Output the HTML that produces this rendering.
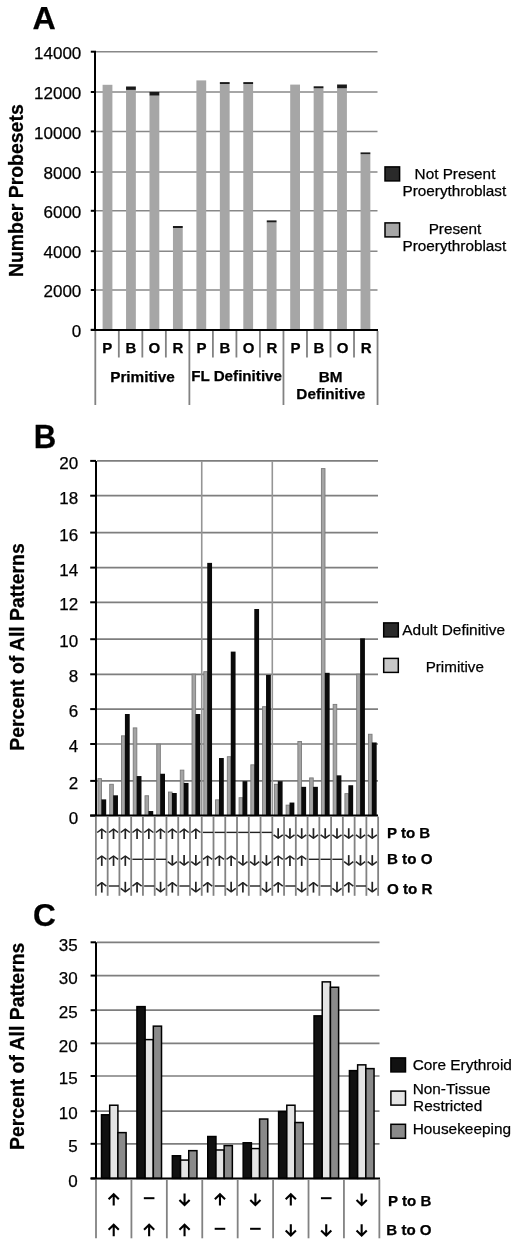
<!DOCTYPE html>
<html><head><meta charset="utf-8"><style>
html,body{margin:0;padding:0;background:#fff;}
body{filter:grayscale(1);}
svg{display:block;}
text{font-family:"Liberation Sans", sans-serif;stroke:#000;stroke-width:0.25px;}
</style></head><body>
<svg width="520" height="1246" viewBox="0 0 520 1246">
<rect x="0" y="0" width="520" height="1246" fill="#fff"/>
<text x="32.40" y="29.40" font-size="32.2" font-weight="bold" text-anchor="start" fill="#000">A</text>
<text x="0" y="0" font-size="19.45" font-weight="bold" text-anchor="middle" fill="#000" transform="translate(22.90 190.70) rotate(-90)">Number Probesets</text>
<text x="81.30" y="337.00" font-size="17" text-anchor="end" fill="#000">0</text>
<line x1="90.80" y1="329.80" x2="96.00" y2="329.80" stroke="#000" stroke-width="2"/>
<text x="81.30" y="297.20" font-size="17" text-anchor="end" fill="#000">2000</text>
<line x1="96.00" y1="290.00" x2="377.50" y2="290.00" stroke="#888888" stroke-width="1.5"/>
<line x1="90.80" y1="290.00" x2="96.00" y2="290.00" stroke="#000" stroke-width="2"/>
<text x="81.30" y="258.40" font-size="17" text-anchor="end" fill="#000">4000</text>
<line x1="96.00" y1="251.20" x2="377.50" y2="251.20" stroke="#888888" stroke-width="1.5"/>
<line x1="90.80" y1="251.20" x2="96.00" y2="251.20" stroke="#000" stroke-width="2"/>
<text x="81.30" y="218.00" font-size="17" text-anchor="end" fill="#000">6000</text>
<line x1="96.00" y1="210.80" x2="377.50" y2="210.80" stroke="#888888" stroke-width="1.5"/>
<line x1="90.80" y1="210.80" x2="96.00" y2="210.80" stroke="#000" stroke-width="2"/>
<text x="81.30" y="179.20" font-size="17" text-anchor="end" fill="#000">8000</text>
<line x1="96.00" y1="172.00" x2="377.50" y2="172.00" stroke="#888888" stroke-width="1.5"/>
<line x1="90.80" y1="172.00" x2="96.00" y2="172.00" stroke="#000" stroke-width="2"/>
<text x="81.30" y="138.60" font-size="17" text-anchor="end" fill="#000">10000</text>
<line x1="96.00" y1="131.40" x2="377.50" y2="131.40" stroke="#888888" stroke-width="1.5"/>
<line x1="90.80" y1="131.40" x2="96.00" y2="131.40" stroke="#000" stroke-width="2"/>
<text x="81.30" y="99.20" font-size="17" text-anchor="end" fill="#000">12000</text>
<line x1="96.00" y1="92.00" x2="377.50" y2="92.00" stroke="#888888" stroke-width="1.5"/>
<line x1="90.80" y1="92.00" x2="96.00" y2="92.00" stroke="#000" stroke-width="2"/>
<text x="81.30" y="58.90" font-size="17" text-anchor="end" fill="#000">14000</text>
<line x1="96.00" y1="51.70" x2="377.50" y2="51.70" stroke="#888888" stroke-width="1.5"/>
<line x1="90.80" y1="51.70" x2="96.00" y2="51.70" stroke="#000" stroke-width="2"/>
<rect x="102.60" y="84.80" width="9.80" height="245.00" fill="#a6a6a6"/>
<rect x="126.05" y="89.90" width="9.80" height="239.90" fill="#a6a6a6"/>
<rect x="126.05" y="86.50" width="9.80" height="3.40" fill="#1a1a1a"/>
<rect x="149.50" y="95.60" width="9.80" height="234.20" fill="#a6a6a6"/>
<rect x="149.50" y="91.90" width="9.80" height="3.70" fill="#1a1a1a"/>
<rect x="172.95" y="228.00" width="9.80" height="101.80" fill="#a6a6a6"/>
<rect x="172.95" y="226.00" width="9.80" height="2.00" fill="#1a1a1a"/>
<rect x="196.40" y="80.40" width="9.80" height="249.40" fill="#a6a6a6"/>
<rect x="219.85" y="84.00" width="9.80" height="245.80" fill="#a6a6a6"/>
<rect x="219.85" y="82.10" width="9.80" height="1.90" fill="#1a1a1a"/>
<rect x="243.30" y="84.00" width="9.80" height="245.80" fill="#a6a6a6"/>
<rect x="243.30" y="82.10" width="9.80" height="1.90" fill="#1a1a1a"/>
<rect x="266.75" y="222.40" width="9.80" height="107.40" fill="#a6a6a6"/>
<rect x="266.75" y="220.40" width="9.80" height="2.00" fill="#1a1a1a"/>
<rect x="290.20" y="84.60" width="9.80" height="245.20" fill="#a6a6a6"/>
<rect x="313.65" y="88.30" width="9.80" height="241.50" fill="#a6a6a6"/>
<rect x="313.65" y="86.30" width="9.80" height="2.00" fill="#1a1a1a"/>
<rect x="337.10" y="88.30" width="9.80" height="241.50" fill="#a6a6a6"/>
<rect x="337.10" y="84.50" width="9.80" height="3.80" fill="#1a1a1a"/>
<rect x="360.55" y="154.20" width="9.80" height="175.60" fill="#a6a6a6"/>
<rect x="360.55" y="152.40" width="9.80" height="1.80" fill="#1a1a1a"/>
<line x1="95.00" y1="51.00" x2="95.00" y2="331.00" stroke="#000" stroke-width="2"/>
<line x1="90.80" y1="330.00" x2="378.00" y2="330.00" stroke="#000" stroke-width="2"/>
<line x1="95.30" y1="331.00" x2="95.30" y2="405.00" stroke="#828282" stroke-width="1.8"/>
<line x1="118.82" y1="331.00" x2="118.82" y2="357.50" stroke="#828282" stroke-width="1.8"/>
<line x1="142.34" y1="331.00" x2="142.34" y2="357.50" stroke="#828282" stroke-width="1.8"/>
<line x1="165.86" y1="331.00" x2="165.86" y2="357.50" stroke="#828282" stroke-width="1.8"/>
<line x1="189.38" y1="331.00" x2="189.38" y2="405.00" stroke="#828282" stroke-width="1.8"/>
<line x1="212.90" y1="331.00" x2="212.90" y2="357.50" stroke="#828282" stroke-width="1.8"/>
<line x1="236.42" y1="331.00" x2="236.42" y2="357.50" stroke="#828282" stroke-width="1.8"/>
<line x1="259.94" y1="331.00" x2="259.94" y2="357.50" stroke="#828282" stroke-width="1.8"/>
<line x1="283.46" y1="331.00" x2="283.46" y2="405.00" stroke="#828282" stroke-width="1.8"/>
<line x1="306.98" y1="331.00" x2="306.98" y2="357.50" stroke="#828282" stroke-width="1.8"/>
<line x1="330.50" y1="331.00" x2="330.50" y2="357.50" stroke="#828282" stroke-width="1.8"/>
<line x1="354.02" y1="331.00" x2="354.02" y2="357.50" stroke="#828282" stroke-width="1.8"/>
<line x1="377.54" y1="331.00" x2="377.54" y2="405.00" stroke="#828282" stroke-width="1.8"/>
<text x="107.36" y="353.10" font-size="15" font-weight="bold" text-anchor="middle" fill="#000">P</text>
<text x="130.88" y="353.10" font-size="15" font-weight="bold" text-anchor="middle" fill="#000">B</text>
<text x="154.40" y="353.10" font-size="15" font-weight="bold" text-anchor="middle" fill="#000">O</text>
<text x="177.92" y="353.10" font-size="15" font-weight="bold" text-anchor="middle" fill="#000">R</text>
<text x="201.44" y="353.10" font-size="15" font-weight="bold" text-anchor="middle" fill="#000">P</text>
<text x="224.96" y="353.10" font-size="15" font-weight="bold" text-anchor="middle" fill="#000">B</text>
<text x="248.48" y="353.10" font-size="15" font-weight="bold" text-anchor="middle" fill="#000">O</text>
<text x="272.00" y="353.10" font-size="15" font-weight="bold" text-anchor="middle" fill="#000">R</text>
<text x="295.52" y="353.10" font-size="15" font-weight="bold" text-anchor="middle" fill="#000">P</text>
<text x="319.04" y="353.10" font-size="15" font-weight="bold" text-anchor="middle" fill="#000">B</text>
<text x="342.56" y="353.10" font-size="15" font-weight="bold" text-anchor="middle" fill="#000">O</text>
<text x="366.08" y="353.10" font-size="15" font-weight="bold" text-anchor="middle" fill="#000">R</text>
<text x="142.50" y="381.60" font-size="15.3" font-weight="bold" text-anchor="middle" fill="#000">Primitive</text>
<text x="236.60" y="381.40" font-size="15.2" font-weight="bold" text-anchor="middle" fill="#000">FL Definitive</text>
<text x="330.60" y="382.00" font-size="15.3" font-weight="bold" text-anchor="middle" fill="#000">BM</text>
<text x="330.80" y="398.80" font-size="15.3" font-weight="bold" text-anchor="middle" fill="#000">Definitive</text>
<rect x="385.00" y="166.90" width="14.60" height="14.00" fill="#2a2a2a" stroke="#000" stroke-width="1.5"/>
<text x="455.00" y="179.30" font-size="15.3" text-anchor="middle" fill="#000">Not Present</text>
<text x="454.40" y="196.20" font-size="15.3" text-anchor="middle" fill="#000">Proerythroblast</text>
<rect x="385.00" y="222.90" width="14.60" height="14.00" fill="#a6a6a6" stroke="#000" stroke-width="1.5"/>
<text x="455.00" y="234.40" font-size="15.3" text-anchor="middle" fill="#000">Present</text>
<text x="454.40" y="251.30" font-size="15.3" text-anchor="middle" fill="#000">Proerythroblast</text>
<text x="0" y="0" font-size="32.4" font-weight="bold" text-anchor="start" fill="#000" transform="translate(33.80 447.60) scale(0.96 1)">B</text>
<text x="0" y="0" font-size="19.42" font-weight="bold" text-anchor="middle" fill="#000" transform="translate(24.00 647.00) rotate(-90)">Percent of All Patterns</text>
<text x="78.20" y="823.70" font-size="17" text-anchor="end" fill="#000">0</text>
<line x1="90.20" y1="815.60" x2="96.00" y2="815.60" stroke="#000" stroke-width="2"/>
<text x="78.20" y="789.00" font-size="17" text-anchor="end" fill="#000">2</text>
<line x1="97.00" y1="780.90" x2="378.00" y2="780.90" stroke="#7e7e7e" stroke-width="1.7"/>
<line x1="90.20" y1="780.90" x2="96.00" y2="780.90" stroke="#000" stroke-width="2"/>
<text x="78.20" y="752.10" font-size="17" text-anchor="end" fill="#000">4</text>
<line x1="97.00" y1="744.00" x2="378.00" y2="744.00" stroke="#7e7e7e" stroke-width="1.7"/>
<line x1="90.20" y1="744.00" x2="96.00" y2="744.00" stroke="#000" stroke-width="2"/>
<text x="78.20" y="717.20" font-size="17" text-anchor="end" fill="#000">6</text>
<line x1="97.00" y1="709.10" x2="378.00" y2="709.10" stroke="#7e7e7e" stroke-width="1.7"/>
<line x1="90.20" y1="709.10" x2="96.00" y2="709.10" stroke="#000" stroke-width="2"/>
<text x="78.20" y="682.40" font-size="17" text-anchor="end" fill="#000">8</text>
<line x1="97.00" y1="674.30" x2="378.00" y2="674.30" stroke="#7e7e7e" stroke-width="1.7"/>
<line x1="90.20" y1="674.30" x2="96.00" y2="674.30" stroke="#000" stroke-width="2"/>
<text x="78.20" y="647.30" font-size="17" text-anchor="end" fill="#000">10</text>
<line x1="97.00" y1="639.20" x2="378.00" y2="639.20" stroke="#7e7e7e" stroke-width="1.7"/>
<line x1="90.20" y1="639.20" x2="96.00" y2="639.20" stroke="#000" stroke-width="2"/>
<text x="78.20" y="610.40" font-size="17" text-anchor="end" fill="#000">12</text>
<line x1="97.00" y1="602.30" x2="378.00" y2="602.30" stroke="#7e7e7e" stroke-width="1.7"/>
<line x1="90.20" y1="602.30" x2="96.00" y2="602.30" stroke="#000" stroke-width="2"/>
<text x="78.20" y="575.70" font-size="17" text-anchor="end" fill="#000">14</text>
<line x1="97.00" y1="567.60" x2="378.00" y2="567.60" stroke="#7e7e7e" stroke-width="1.7"/>
<line x1="90.20" y1="567.60" x2="96.00" y2="567.60" stroke="#000" stroke-width="2"/>
<text x="78.20" y="540.70" font-size="17" text-anchor="end" fill="#000">16</text>
<line x1="97.00" y1="532.60" x2="378.00" y2="532.60" stroke="#7e7e7e" stroke-width="1.7"/>
<line x1="90.20" y1="532.60" x2="96.00" y2="532.60" stroke="#000" stroke-width="2"/>
<text x="78.20" y="503.80" font-size="17" text-anchor="end" fill="#000">18</text>
<line x1="97.00" y1="495.70" x2="378.00" y2="495.70" stroke="#7e7e7e" stroke-width="1.7"/>
<line x1="90.20" y1="495.70" x2="96.00" y2="495.70" stroke="#000" stroke-width="2"/>
<text x="78.20" y="469.00" font-size="17" text-anchor="end" fill="#000">20</text>
<line x1="97.00" y1="460.90" x2="378.00" y2="460.90" stroke="#7e7e7e" stroke-width="1.7"/>
<line x1="90.20" y1="460.90" x2="96.00" y2="460.90" stroke="#000" stroke-width="2"/>
<line x1="201.74" y1="460.90" x2="201.74" y2="815.60" stroke="#959595" stroke-width="1.6"/>
<line x1="272.30" y1="460.90" x2="272.30" y2="815.60" stroke="#959595" stroke-width="1.6"/>
<rect x="97.95" y="778.62" width="3.60" height="36.98" fill="#a4a4a4" stroke="#7a7a7a" stroke-width="0.9"/>
<rect x="101.40" y="799.38" width="4.80" height="16.22" fill="#0a0a0a"/>
<rect x="109.71" y="784.27" width="3.60" height="31.33" fill="#a4a4a4" stroke="#7a7a7a" stroke-width="0.9"/>
<rect x="113.16" y="795.31" width="4.80" height="20.29" fill="#0a0a0a"/>
<rect x="121.47" y="735.84" width="3.60" height="79.76" fill="#a4a4a4" stroke="#7a7a7a" stroke-width="0.9"/>
<rect x="124.92" y="714.01" width="4.80" height="101.59" fill="#0a0a0a"/>
<rect x="133.23" y="727.89" width="3.60" height="87.71" fill="#a4a4a4" stroke="#7a7a7a" stroke-width="0.9"/>
<rect x="136.68" y="776.05" width="4.80" height="39.55" fill="#0a0a0a"/>
<rect x="144.99" y="795.76" width="3.60" height="19.84" fill="#a4a4a4" stroke="#7a7a7a" stroke-width="0.9"/>
<rect x="148.44" y="811.04" width="4.80" height="4.56" fill="#0a0a0a"/>
<rect x="156.75" y="744.15" width="3.60" height="71.45" fill="#a4a4a4" stroke="#7a7a7a" stroke-width="0.9"/>
<rect x="160.20" y="773.75" width="4.80" height="41.85" fill="#0a0a0a"/>
<rect x="168.51" y="792.05" width="3.60" height="23.55" fill="#a4a4a4" stroke="#7a7a7a" stroke-width="0.9"/>
<rect x="171.96" y="793.01" width="4.80" height="22.59" fill="#0a0a0a"/>
<rect x="180.27" y="770.13" width="3.60" height="45.47" fill="#a4a4a4" stroke="#7a7a7a" stroke-width="0.9"/>
<rect x="183.72" y="782.94" width="4.80" height="32.66" fill="#0a0a0a"/>
<rect x="192.03" y="674.16" width="3.60" height="141.44" fill="#a4a4a4" stroke="#7a7a7a" stroke-width="0.9"/>
<rect x="195.48" y="714.01" width="4.80" height="101.59" fill="#0a0a0a"/>
<rect x="203.79" y="671.68" width="3.60" height="143.92" fill="#a4a4a4" stroke="#7a7a7a" stroke-width="0.9"/>
<rect x="207.24" y="562.88" width="4.80" height="252.72" fill="#0a0a0a"/>
<rect x="215.55" y="799.83" width="3.60" height="15.77" fill="#a4a4a4" stroke="#7a7a7a" stroke-width="0.9"/>
<rect x="219.00" y="758.02" width="4.80" height="57.58" fill="#0a0a0a"/>
<rect x="227.31" y="756.70" width="3.60" height="58.90" fill="#a4a4a4" stroke="#7a7a7a" stroke-width="0.9"/>
<rect x="230.76" y="651.61" width="4.80" height="163.99" fill="#0a0a0a"/>
<rect x="239.07" y="797.71" width="3.60" height="17.89" fill="#a4a4a4" stroke="#7a7a7a" stroke-width="0.9"/>
<rect x="242.52" y="781.17" width="4.80" height="34.43" fill="#0a0a0a"/>
<rect x="250.83" y="764.83" width="3.60" height="50.77" fill="#a4a4a4" stroke="#7a7a7a" stroke-width="0.9"/>
<rect x="254.28" y="609.02" width="4.80" height="206.58" fill="#0a0a0a"/>
<rect x="262.59" y="706.68" width="3.60" height="108.92" fill="#a4a4a4" stroke="#7a7a7a" stroke-width="0.9"/>
<rect x="266.04" y="674.94" width="4.80" height="140.66" fill="#0a0a0a"/>
<rect x="274.35" y="784.27" width="3.60" height="31.33" fill="#a4a4a4" stroke="#7a7a7a" stroke-width="0.9"/>
<rect x="277.80" y="781.17" width="4.80" height="34.43" fill="#0a0a0a"/>
<rect x="286.11" y="805.13" width="3.60" height="10.47" fill="#a4a4a4" stroke="#7a7a7a" stroke-width="0.9"/>
<rect x="289.56" y="802.56" width="4.80" height="13.04" fill="#0a0a0a"/>
<rect x="297.87" y="741.50" width="3.60" height="74.10" fill="#a4a4a4" stroke="#7a7a7a" stroke-width="0.9"/>
<rect x="301.32" y="786.83" width="4.80" height="28.77" fill="#0a0a0a"/>
<rect x="309.63" y="777.91" width="3.60" height="37.69" fill="#a4a4a4" stroke="#7a7a7a" stroke-width="0.9"/>
<rect x="313.08" y="786.83" width="4.80" height="28.77" fill="#0a0a0a"/>
<rect x="321.39" y="468.60" width="3.60" height="347.00" fill="#a4a4a4" stroke="#7a7a7a" stroke-width="0.9"/>
<rect x="324.84" y="672.82" width="4.80" height="142.78" fill="#0a0a0a"/>
<rect x="333.15" y="704.38" width="3.60" height="111.22" fill="#a4a4a4" stroke="#7a7a7a" stroke-width="0.9"/>
<rect x="336.60" y="775.34" width="4.80" height="40.26" fill="#0a0a0a"/>
<rect x="344.91" y="793.64" width="3.60" height="21.96" fill="#a4a4a4" stroke="#7a7a7a" stroke-width="0.9"/>
<rect x="348.36" y="785.24" width="4.80" height="30.36" fill="#0a0a0a"/>
<rect x="356.67" y="674.16" width="3.60" height="141.44" fill="#a4a4a4" stroke="#7a7a7a" stroke-width="0.9"/>
<rect x="360.12" y="638.36" width="4.80" height="177.24" fill="#0a0a0a"/>
<rect x="368.43" y="734.25" width="3.60" height="81.35" fill="#a4a4a4" stroke="#7a7a7a" stroke-width="0.9"/>
<rect x="371.88" y="742.46" width="4.80" height="73.14" fill="#0a0a0a"/>
<line x1="96.00" y1="460.90" x2="96.00" y2="816.60" stroke="#000" stroke-width="2"/>
<line x1="90.20" y1="815.60" x2="378.00" y2="815.60" stroke="#000" stroke-width="2"/>
<line x1="95.90" y1="816.60" x2="95.90" y2="895.80" stroke="#828282" stroke-width="1.8"/>
<line x1="107.66" y1="816.60" x2="107.66" y2="895.80" stroke="#828282" stroke-width="1.8"/>
<line x1="119.42" y1="816.60" x2="119.42" y2="895.80" stroke="#828282" stroke-width="1.8"/>
<line x1="131.18" y1="816.60" x2="131.18" y2="895.80" stroke="#828282" stroke-width="1.8"/>
<line x1="142.94" y1="816.60" x2="142.94" y2="895.80" stroke="#828282" stroke-width="1.8"/>
<line x1="154.70" y1="816.60" x2="154.70" y2="895.80" stroke="#828282" stroke-width="1.8"/>
<line x1="166.46" y1="816.60" x2="166.46" y2="895.80" stroke="#828282" stroke-width="1.8"/>
<line x1="178.22" y1="816.60" x2="178.22" y2="895.80" stroke="#828282" stroke-width="1.8"/>
<line x1="189.98" y1="816.60" x2="189.98" y2="895.80" stroke="#828282" stroke-width="1.8"/>
<line x1="201.74" y1="816.60" x2="201.74" y2="895.80" stroke="#828282" stroke-width="1.8"/>
<line x1="213.50" y1="816.60" x2="213.50" y2="895.80" stroke="#828282" stroke-width="1.8"/>
<line x1="225.26" y1="816.60" x2="225.26" y2="895.80" stroke="#828282" stroke-width="1.8"/>
<line x1="237.02" y1="816.60" x2="237.02" y2="895.80" stroke="#828282" stroke-width="1.8"/>
<line x1="248.78" y1="816.60" x2="248.78" y2="895.80" stroke="#828282" stroke-width="1.8"/>
<line x1="260.54" y1="816.60" x2="260.54" y2="895.80" stroke="#828282" stroke-width="1.8"/>
<line x1="272.30" y1="816.60" x2="272.30" y2="895.80" stroke="#828282" stroke-width="1.8"/>
<line x1="284.06" y1="816.60" x2="284.06" y2="895.80" stroke="#828282" stroke-width="1.8"/>
<line x1="295.82" y1="816.60" x2="295.82" y2="895.80" stroke="#828282" stroke-width="1.8"/>
<line x1="307.58" y1="816.60" x2="307.58" y2="895.80" stroke="#828282" stroke-width="1.8"/>
<line x1="319.34" y1="816.60" x2="319.34" y2="895.80" stroke="#828282" stroke-width="1.8"/>
<line x1="331.10" y1="816.60" x2="331.10" y2="895.80" stroke="#828282" stroke-width="1.8"/>
<line x1="342.86" y1="816.60" x2="342.86" y2="895.80" stroke="#828282" stroke-width="1.8"/>
<line x1="354.62" y1="816.60" x2="354.62" y2="895.80" stroke="#828282" stroke-width="1.8"/>
<line x1="366.38" y1="816.60" x2="366.38" y2="895.80" stroke="#828282" stroke-width="1.8"/>
<line x1="378.14" y1="816.60" x2="378.14" y2="895.80" stroke="#828282" stroke-width="1.8"/>
<path d="M97.18,832.50 L101.78,829.10 L106.38,832.50" fill="none" stroke="#222" stroke-width="1.5" stroke-linejoin="round"/>
<line x1="101.78" y1="829.10" x2="101.78" y2="839.00" stroke="#222" stroke-width="1.7"/>
<path d="M108.94,832.50 L113.54,829.10 L118.14,832.50" fill="none" stroke="#222" stroke-width="1.5" stroke-linejoin="round"/>
<line x1="113.54" y1="829.10" x2="113.54" y2="839.00" stroke="#222" stroke-width="1.7"/>
<path d="M120.70,832.50 L125.30,829.10 L129.90,832.50" fill="none" stroke="#222" stroke-width="1.5" stroke-linejoin="round"/>
<line x1="125.30" y1="829.10" x2="125.30" y2="839.00" stroke="#222" stroke-width="1.7"/>
<path d="M132.46,832.50 L137.06,829.10 L141.66,832.50" fill="none" stroke="#222" stroke-width="1.5" stroke-linejoin="round"/>
<line x1="137.06" y1="829.10" x2="137.06" y2="839.00" stroke="#222" stroke-width="1.7"/>
<path d="M144.22,832.50 L148.82,829.10 L153.42,832.50" fill="none" stroke="#222" stroke-width="1.5" stroke-linejoin="round"/>
<line x1="148.82" y1="829.10" x2="148.82" y2="839.00" stroke="#222" stroke-width="1.7"/>
<path d="M155.98,832.50 L160.58,829.10 L165.18,832.50" fill="none" stroke="#222" stroke-width="1.5" stroke-linejoin="round"/>
<line x1="160.58" y1="829.10" x2="160.58" y2="839.00" stroke="#222" stroke-width="1.7"/>
<path d="M167.74,832.50 L172.34,829.10 L176.94,832.50" fill="none" stroke="#222" stroke-width="1.5" stroke-linejoin="round"/>
<line x1="172.34" y1="829.10" x2="172.34" y2="839.00" stroke="#222" stroke-width="1.7"/>
<path d="M179.50,832.50 L184.10,829.10 L188.70,832.50" fill="none" stroke="#222" stroke-width="1.5" stroke-linejoin="round"/>
<line x1="184.10" y1="829.10" x2="184.10" y2="839.00" stroke="#222" stroke-width="1.7"/>
<path d="M191.26,832.50 L195.86,829.10 L200.46,832.50" fill="none" stroke="#222" stroke-width="1.5" stroke-linejoin="round"/>
<line x1="195.86" y1="829.10" x2="195.86" y2="839.00" stroke="#222" stroke-width="1.7"/>
<line x1="202.94" y1="832.40" x2="213.10" y2="832.40" stroke="#222" stroke-width="1.4"/>
<line x1="214.70" y1="832.40" x2="224.86" y2="832.40" stroke="#222" stroke-width="1.4"/>
<line x1="226.46" y1="832.40" x2="236.62" y2="832.40" stroke="#222" stroke-width="1.4"/>
<line x1="238.22" y1="832.40" x2="248.38" y2="832.40" stroke="#222" stroke-width="1.4"/>
<line x1="249.98" y1="832.40" x2="260.14" y2="832.40" stroke="#222" stroke-width="1.4"/>
<line x1="261.74" y1="832.40" x2="271.90" y2="832.40" stroke="#222" stroke-width="1.4"/>
<path d="M273.58,834.80 L278.18,838.20 L282.78,834.80" fill="none" stroke="#222" stroke-width="1.5" stroke-linejoin="round"/>
<line x1="278.18" y1="828.20" x2="278.18" y2="838.20" stroke="#222" stroke-width="1.7"/>
<path d="M285.34,834.80 L289.94,838.20 L294.54,834.80" fill="none" stroke="#222" stroke-width="1.5" stroke-linejoin="round"/>
<line x1="289.94" y1="828.20" x2="289.94" y2="838.20" stroke="#222" stroke-width="1.7"/>
<path d="M297.10,834.80 L301.70,838.20 L306.30,834.80" fill="none" stroke="#222" stroke-width="1.5" stroke-linejoin="round"/>
<line x1="301.70" y1="828.20" x2="301.70" y2="838.20" stroke="#222" stroke-width="1.7"/>
<path d="M308.86,834.80 L313.46,838.20 L318.06,834.80" fill="none" stroke="#222" stroke-width="1.5" stroke-linejoin="round"/>
<line x1="313.46" y1="828.20" x2="313.46" y2="838.20" stroke="#222" stroke-width="1.7"/>
<path d="M320.62,834.80 L325.22,838.20 L329.82,834.80" fill="none" stroke="#222" stroke-width="1.5" stroke-linejoin="round"/>
<line x1="325.22" y1="828.20" x2="325.22" y2="838.20" stroke="#222" stroke-width="1.7"/>
<path d="M332.38,834.80 L336.98,838.20 L341.58,834.80" fill="none" stroke="#222" stroke-width="1.5" stroke-linejoin="round"/>
<line x1="336.98" y1="828.20" x2="336.98" y2="838.20" stroke="#222" stroke-width="1.7"/>
<path d="M344.14,834.80 L348.74,838.20 L353.34,834.80" fill="none" stroke="#222" stroke-width="1.5" stroke-linejoin="round"/>
<line x1="348.74" y1="828.20" x2="348.74" y2="838.20" stroke="#222" stroke-width="1.7"/>
<path d="M355.90,834.80 L360.50,838.20 L365.10,834.80" fill="none" stroke="#222" stroke-width="1.5" stroke-linejoin="round"/>
<line x1="360.50" y1="828.20" x2="360.50" y2="838.20" stroke="#222" stroke-width="1.7"/>
<path d="M367.66,834.80 L372.26,838.20 L376.86,834.80" fill="none" stroke="#222" stroke-width="1.5" stroke-linejoin="round"/>
<line x1="372.26" y1="828.20" x2="372.26" y2="838.20" stroke="#222" stroke-width="1.7"/>
<path d="M97.18,859.40 L101.78,856.00 L106.38,859.40" fill="none" stroke="#222" stroke-width="1.5" stroke-linejoin="round"/>
<line x1="101.78" y1="856.00" x2="101.78" y2="865.90" stroke="#222" stroke-width="1.7"/>
<path d="M108.94,859.40 L113.54,856.00 L118.14,859.40" fill="none" stroke="#222" stroke-width="1.5" stroke-linejoin="round"/>
<line x1="113.54" y1="856.00" x2="113.54" y2="865.90" stroke="#222" stroke-width="1.7"/>
<path d="M120.70,859.40 L125.30,856.00 L129.90,859.40" fill="none" stroke="#222" stroke-width="1.5" stroke-linejoin="round"/>
<line x1="125.30" y1="856.00" x2="125.30" y2="865.90" stroke="#222" stroke-width="1.7"/>
<line x1="132.38" y1="859.30" x2="142.54" y2="859.30" stroke="#222" stroke-width="1.4"/>
<line x1="144.14" y1="859.30" x2="154.30" y2="859.30" stroke="#222" stroke-width="1.4"/>
<line x1="155.90" y1="859.30" x2="166.06" y2="859.30" stroke="#222" stroke-width="1.4"/>
<path d="M167.74,861.70 L172.34,865.10 L176.94,861.70" fill="none" stroke="#222" stroke-width="1.5" stroke-linejoin="round"/>
<line x1="172.34" y1="855.10" x2="172.34" y2="865.10" stroke="#222" stroke-width="1.7"/>
<path d="M179.50,861.70 L184.10,865.10 L188.70,861.70" fill="none" stroke="#222" stroke-width="1.5" stroke-linejoin="round"/>
<line x1="184.10" y1="855.10" x2="184.10" y2="865.10" stroke="#222" stroke-width="1.7"/>
<path d="M191.26,861.70 L195.86,865.10 L200.46,861.70" fill="none" stroke="#222" stroke-width="1.5" stroke-linejoin="round"/>
<line x1="195.86" y1="855.10" x2="195.86" y2="865.10" stroke="#222" stroke-width="1.7"/>
<path d="M203.02,859.40 L207.62,856.00 L212.22,859.40" fill="none" stroke="#222" stroke-width="1.5" stroke-linejoin="round"/>
<line x1="207.62" y1="856.00" x2="207.62" y2="865.90" stroke="#222" stroke-width="1.7"/>
<path d="M214.78,859.40 L219.38,856.00 L223.98,859.40" fill="none" stroke="#222" stroke-width="1.5" stroke-linejoin="round"/>
<line x1="219.38" y1="856.00" x2="219.38" y2="865.90" stroke="#222" stroke-width="1.7"/>
<path d="M226.54,859.40 L231.14,856.00 L235.74,859.40" fill="none" stroke="#222" stroke-width="1.5" stroke-linejoin="round"/>
<line x1="231.14" y1="856.00" x2="231.14" y2="865.90" stroke="#222" stroke-width="1.7"/>
<path d="M238.30,861.70 L242.90,865.10 L247.50,861.70" fill="none" stroke="#222" stroke-width="1.5" stroke-linejoin="round"/>
<line x1="242.90" y1="855.10" x2="242.90" y2="865.10" stroke="#222" stroke-width="1.7"/>
<path d="M250.06,861.70 L254.66,865.10 L259.26,861.70" fill="none" stroke="#222" stroke-width="1.5" stroke-linejoin="round"/>
<line x1="254.66" y1="855.10" x2="254.66" y2="865.10" stroke="#222" stroke-width="1.7"/>
<path d="M261.82,861.70 L266.42,865.10 L271.02,861.70" fill="none" stroke="#222" stroke-width="1.5" stroke-linejoin="round"/>
<line x1="266.42" y1="855.10" x2="266.42" y2="865.10" stroke="#222" stroke-width="1.7"/>
<path d="M273.58,859.40 L278.18,856.00 L282.78,859.40" fill="none" stroke="#222" stroke-width="1.5" stroke-linejoin="round"/>
<line x1="278.18" y1="856.00" x2="278.18" y2="865.90" stroke="#222" stroke-width="1.7"/>
<path d="M285.34,859.40 L289.94,856.00 L294.54,859.40" fill="none" stroke="#222" stroke-width="1.5" stroke-linejoin="round"/>
<line x1="289.94" y1="856.00" x2="289.94" y2="865.90" stroke="#222" stroke-width="1.7"/>
<path d="M297.10,859.40 L301.70,856.00 L306.30,859.40" fill="none" stroke="#222" stroke-width="1.5" stroke-linejoin="round"/>
<line x1="301.70" y1="856.00" x2="301.70" y2="865.90" stroke="#222" stroke-width="1.7"/>
<line x1="308.78" y1="859.30" x2="318.94" y2="859.30" stroke="#222" stroke-width="1.4"/>
<line x1="320.54" y1="859.30" x2="330.70" y2="859.30" stroke="#222" stroke-width="1.4"/>
<line x1="332.30" y1="859.30" x2="342.46" y2="859.30" stroke="#222" stroke-width="1.4"/>
<path d="M344.14,861.70 L348.74,865.10 L353.34,861.70" fill="none" stroke="#222" stroke-width="1.5" stroke-linejoin="round"/>
<line x1="348.74" y1="855.10" x2="348.74" y2="865.10" stroke="#222" stroke-width="1.7"/>
<path d="M355.90,861.70 L360.50,865.10 L365.10,861.70" fill="none" stroke="#222" stroke-width="1.5" stroke-linejoin="round"/>
<line x1="360.50" y1="855.10" x2="360.50" y2="865.10" stroke="#222" stroke-width="1.7"/>
<path d="M367.66,861.70 L372.26,865.10 L376.86,861.70" fill="none" stroke="#222" stroke-width="1.5" stroke-linejoin="round"/>
<line x1="372.26" y1="855.10" x2="372.26" y2="865.10" stroke="#222" stroke-width="1.7"/>
<path d="M97.18,886.10 L101.78,882.70 L106.38,886.10" fill="none" stroke="#222" stroke-width="1.5" stroke-linejoin="round"/>
<line x1="101.78" y1="882.70" x2="101.78" y2="892.60" stroke="#222" stroke-width="1.7"/>
<line x1="108.86" y1="886.00" x2="119.02" y2="886.00" stroke="#222" stroke-width="1.4"/>
<path d="M120.70,888.40 L125.30,891.80 L129.90,888.40" fill="none" stroke="#222" stroke-width="1.5" stroke-linejoin="round"/>
<line x1="125.30" y1="881.80" x2="125.30" y2="891.80" stroke="#222" stroke-width="1.7"/>
<path d="M132.46,886.10 L137.06,882.70 L141.66,886.10" fill="none" stroke="#222" stroke-width="1.5" stroke-linejoin="round"/>
<line x1="137.06" y1="882.70" x2="137.06" y2="892.60" stroke="#222" stroke-width="1.7"/>
<line x1="144.14" y1="886.00" x2="154.30" y2="886.00" stroke="#222" stroke-width="1.4"/>
<path d="M155.98,888.40 L160.58,891.80 L165.18,888.40" fill="none" stroke="#222" stroke-width="1.5" stroke-linejoin="round"/>
<line x1="160.58" y1="881.80" x2="160.58" y2="891.80" stroke="#222" stroke-width="1.7"/>
<path d="M167.74,886.10 L172.34,882.70 L176.94,886.10" fill="none" stroke="#222" stroke-width="1.5" stroke-linejoin="round"/>
<line x1="172.34" y1="882.70" x2="172.34" y2="892.60" stroke="#222" stroke-width="1.7"/>
<line x1="179.42" y1="886.00" x2="189.58" y2="886.00" stroke="#222" stroke-width="1.4"/>
<path d="M191.26,888.40 L195.86,891.80 L200.46,888.40" fill="none" stroke="#222" stroke-width="1.5" stroke-linejoin="round"/>
<line x1="195.86" y1="881.80" x2="195.86" y2="891.80" stroke="#222" stroke-width="1.7"/>
<path d="M203.02,886.10 L207.62,882.70 L212.22,886.10" fill="none" stroke="#222" stroke-width="1.5" stroke-linejoin="round"/>
<line x1="207.62" y1="882.70" x2="207.62" y2="892.60" stroke="#222" stroke-width="1.7"/>
<line x1="214.70" y1="886.00" x2="224.86" y2="886.00" stroke="#222" stroke-width="1.4"/>
<path d="M226.54,888.40 L231.14,891.80 L235.74,888.40" fill="none" stroke="#222" stroke-width="1.5" stroke-linejoin="round"/>
<line x1="231.14" y1="881.80" x2="231.14" y2="891.80" stroke="#222" stroke-width="1.7"/>
<path d="M238.30,886.10 L242.90,882.70 L247.50,886.10" fill="none" stroke="#222" stroke-width="1.5" stroke-linejoin="round"/>
<line x1="242.90" y1="882.70" x2="242.90" y2="892.60" stroke="#222" stroke-width="1.7"/>
<line x1="249.98" y1="886.00" x2="260.14" y2="886.00" stroke="#222" stroke-width="1.4"/>
<path d="M261.82,888.40 L266.42,891.80 L271.02,888.40" fill="none" stroke="#222" stroke-width="1.5" stroke-linejoin="round"/>
<line x1="266.42" y1="881.80" x2="266.42" y2="891.80" stroke="#222" stroke-width="1.7"/>
<path d="M273.58,886.10 L278.18,882.70 L282.78,886.10" fill="none" stroke="#222" stroke-width="1.5" stroke-linejoin="round"/>
<line x1="278.18" y1="882.70" x2="278.18" y2="892.60" stroke="#222" stroke-width="1.7"/>
<line x1="285.26" y1="886.00" x2="295.42" y2="886.00" stroke="#222" stroke-width="1.4"/>
<path d="M297.10,888.40 L301.70,891.80 L306.30,888.40" fill="none" stroke="#222" stroke-width="1.5" stroke-linejoin="round"/>
<line x1="301.70" y1="881.80" x2="301.70" y2="891.80" stroke="#222" stroke-width="1.7"/>
<path d="M308.86,886.10 L313.46,882.70 L318.06,886.10" fill="none" stroke="#222" stroke-width="1.5" stroke-linejoin="round"/>
<line x1="313.46" y1="882.70" x2="313.46" y2="892.60" stroke="#222" stroke-width="1.7"/>
<line x1="320.54" y1="886.00" x2="330.70" y2="886.00" stroke="#222" stroke-width="1.4"/>
<path d="M332.38,888.40 L336.98,891.80 L341.58,888.40" fill="none" stroke="#222" stroke-width="1.5" stroke-linejoin="round"/>
<line x1="336.98" y1="881.80" x2="336.98" y2="891.80" stroke="#222" stroke-width="1.7"/>
<path d="M344.14,886.10 L348.74,882.70 L353.34,886.10" fill="none" stroke="#222" stroke-width="1.5" stroke-linejoin="round"/>
<line x1="348.74" y1="882.70" x2="348.74" y2="892.60" stroke="#222" stroke-width="1.7"/>
<line x1="355.82" y1="886.00" x2="365.98" y2="886.00" stroke="#222" stroke-width="1.4"/>
<path d="M367.66,888.40 L372.26,891.80 L376.86,888.40" fill="none" stroke="#222" stroke-width="1.5" stroke-linejoin="round"/>
<line x1="372.26" y1="881.80" x2="372.26" y2="891.80" stroke="#222" stroke-width="1.7"/>
<text x="386.90" y="837.60" font-size="15.1" font-weight="bold" text-anchor="start" fill="#000">P to B</text>
<text x="386.90" y="864.20" font-size="15.2" font-weight="bold" text-anchor="start" fill="#000">B to O</text>
<text x="386.90" y="893.70" font-size="15.2" font-weight="bold" text-anchor="start" fill="#000">O to R</text>
<rect x="383.70" y="622.90" width="14.60" height="14.00" fill="#2a2a2a" stroke="#000" stroke-width="1.5"/>
<text x="453.70" y="634.60" font-size="15.4" text-anchor="middle" fill="#000">Adult Definitive</text>
<rect x="383.70" y="658.40" width="14.60" height="14.00" fill="#c8c8c8" stroke="#000" stroke-width="1.5"/>
<text x="454.80" y="671.50" font-size="15.2" text-anchor="middle" fill="#000">Primitive</text>
<text x="33.00" y="926.00" font-size="31.6" font-weight="bold" text-anchor="start" fill="#000">C</text>
<text x="0" y="0" font-size="19.4" font-weight="bold" text-anchor="middle" fill="#000" transform="translate(24.20 1046.30) rotate(-90)">Percent of All Patterns</text>
<text x="77.60" y="1186.60" font-size="17" text-anchor="end" fill="#000">0</text>
<line x1="90.60" y1="1178.40" x2="96.00" y2="1178.40" stroke="#000" stroke-width="2"/>
<text x="77.60" y="1152.00" font-size="17" text-anchor="end" fill="#000">5</text>
<line x1="97.00" y1="1143.80" x2="379.50" y2="1143.80" stroke="#7e7e7e" stroke-width="1.7"/>
<line x1="90.60" y1="1143.80" x2="96.00" y2="1143.80" stroke="#000" stroke-width="2"/>
<text x="77.60" y="1119.40" font-size="17" text-anchor="end" fill="#000">10</text>
<line x1="97.00" y1="1111.20" x2="379.50" y2="1111.20" stroke="#7e7e7e" stroke-width="1.7"/>
<line x1="90.60" y1="1111.20" x2="96.00" y2="1111.20" stroke="#000" stroke-width="2"/>
<text x="77.60" y="1084.20" font-size="17" text-anchor="end" fill="#000">15</text>
<line x1="97.00" y1="1076.00" x2="379.50" y2="1076.00" stroke="#7e7e7e" stroke-width="1.7"/>
<line x1="90.60" y1="1076.00" x2="96.00" y2="1076.00" stroke="#000" stroke-width="2"/>
<text x="77.60" y="1051.50" font-size="17" text-anchor="end" fill="#000">20</text>
<line x1="97.00" y1="1043.30" x2="379.50" y2="1043.30" stroke="#7e7e7e" stroke-width="1.7"/>
<line x1="90.60" y1="1043.30" x2="96.00" y2="1043.30" stroke="#000" stroke-width="2"/>
<text x="77.60" y="1018.40" font-size="17" text-anchor="end" fill="#000">25</text>
<line x1="97.00" y1="1010.20" x2="379.50" y2="1010.20" stroke="#7e7e7e" stroke-width="1.7"/>
<line x1="90.60" y1="1010.20" x2="96.00" y2="1010.20" stroke="#000" stroke-width="2"/>
<text x="77.60" y="983.80" font-size="17" text-anchor="end" fill="#000">30</text>
<line x1="97.00" y1="975.60" x2="379.50" y2="975.60" stroke="#7e7e7e" stroke-width="1.7"/>
<line x1="90.60" y1="975.60" x2="96.00" y2="975.60" stroke="#000" stroke-width="2"/>
<text x="77.60" y="950.50" font-size="17" text-anchor="end" fill="#000">35</text>
<line x1="97.00" y1="942.30" x2="379.50" y2="942.30" stroke="#7e7e7e" stroke-width="1.7"/>
<line x1="90.60" y1="942.30" x2="96.00" y2="942.30" stroke="#000" stroke-width="2"/>
<rect x="101.50" y="1114.79" width="8.20" height="63.61" fill="#111111" stroke="#000" stroke-width="1.5"/>
<rect x="109.70" y="1105.23" width="8.20" height="73.17" fill="#e4e4e4" stroke="#000" stroke-width="1.5"/>
<rect x="117.90" y="1132.62" width="8.20" height="45.78" fill="#8a8a8a" stroke="#000" stroke-width="1.5"/>
<rect x="136.92" y="1006.63" width="8.20" height="171.77" fill="#111111" stroke="#000" stroke-width="1.5"/>
<rect x="145.12" y="1039.61" width="8.20" height="138.79" fill="#e4e4e4" stroke="#000" stroke-width="1.5"/>
<rect x="153.32" y="1026.15" width="8.20" height="152.25" fill="#8a8a8a" stroke="#000" stroke-width="1.5"/>
<rect x="172.34" y="1155.77" width="8.20" height="22.63" fill="#111111" stroke="#000" stroke-width="1.5"/>
<rect x="180.54" y="1160.08" width="8.20" height="18.32" fill="#e4e4e4" stroke="#000" stroke-width="1.5"/>
<rect x="188.74" y="1150.66" width="8.20" height="27.74" fill="#8a8a8a" stroke="#000" stroke-width="1.5"/>
<rect x="207.76" y="1136.52" width="8.20" height="41.88" fill="#111111" stroke="#000" stroke-width="1.5"/>
<rect x="215.96" y="1149.98" width="8.20" height="28.42" fill="#e4e4e4" stroke="#000" stroke-width="1.5"/>
<rect x="224.16" y="1145.61" width="8.20" height="32.79" fill="#8a8a8a" stroke="#000" stroke-width="1.5"/>
<rect x="243.18" y="1142.78" width="8.20" height="35.62" fill="#111111" stroke="#000" stroke-width="1.5"/>
<rect x="251.38" y="1148.57" width="8.20" height="29.83" fill="#e4e4e4" stroke="#000" stroke-width="1.5"/>
<rect x="259.58" y="1119.03" width="8.20" height="59.37" fill="#8a8a8a" stroke="#000" stroke-width="1.5"/>
<rect x="278.60" y="1111.56" width="8.20" height="66.84" fill="#111111" stroke="#000" stroke-width="1.5"/>
<rect x="286.80" y="1105.23" width="8.20" height="73.17" fill="#e4e4e4" stroke="#000" stroke-width="1.5"/>
<rect x="295.00" y="1122.53" width="8.20" height="55.87" fill="#8a8a8a" stroke="#000" stroke-width="1.5"/>
<rect x="314.02" y="1015.86" width="8.20" height="162.54" fill="#111111" stroke="#000" stroke-width="1.5"/>
<rect x="322.22" y="981.87" width="8.20" height="196.53" fill="#e4e4e4" stroke="#000" stroke-width="1.5"/>
<rect x="330.42" y="987.25" width="8.20" height="191.15" fill="#8a8a8a" stroke="#000" stroke-width="1.5"/>
<rect x="349.44" y="1070.64" width="8.20" height="107.76" fill="#111111" stroke="#000" stroke-width="1.5"/>
<rect x="357.64" y="1064.85" width="8.20" height="113.55" fill="#e4e4e4" stroke="#000" stroke-width="1.5"/>
<rect x="365.84" y="1068.62" width="8.20" height="109.78" fill="#8a8a8a" stroke="#000" stroke-width="1.5"/>
<line x1="96.00" y1="942.30" x2="96.00" y2="1179.40" stroke="#000" stroke-width="2"/>
<line x1="90.60" y1="1178.40" x2="380.00" y2="1178.40" stroke="#000" stroke-width="2"/>
<line x1="96.00" y1="1179.40" x2="96.00" y2="1238.30" stroke="#828282" stroke-width="1.8"/>
<line x1="131.42" y1="1179.40" x2="131.42" y2="1238.30" stroke="#828282" stroke-width="1.8"/>
<line x1="166.84" y1="1179.40" x2="166.84" y2="1238.30" stroke="#828282" stroke-width="1.8"/>
<line x1="202.26" y1="1179.40" x2="202.26" y2="1238.30" stroke="#828282" stroke-width="1.8"/>
<line x1="237.68" y1="1179.40" x2="237.68" y2="1238.30" stroke="#828282" stroke-width="1.8"/>
<line x1="273.10" y1="1179.40" x2="273.10" y2="1238.30" stroke="#828282" stroke-width="1.8"/>
<line x1="308.52" y1="1179.40" x2="308.52" y2="1238.30" stroke="#828282" stroke-width="1.8"/>
<line x1="343.94" y1="1179.40" x2="343.94" y2="1238.30" stroke="#828282" stroke-width="1.8"/>
<line x1="379.36" y1="1179.40" x2="379.36" y2="1238.30" stroke="#828282" stroke-width="1.8"/>
<path d="M108.61,1199.20 L113.71,1194.20 L118.81,1199.20 M113.71,1194.20 L113.71,1205.60" fill="none" stroke="#000" stroke-width="2.1"/>
<line x1="143.83" y1="1198.20" x2="154.43" y2="1198.20" stroke="#000" stroke-width="2"/>
<path d="M179.45,1200.00 L184.55,1205.00 L189.65,1200.00 M184.55,1205.00 L184.55,1193.60" fill="none" stroke="#000" stroke-width="2.1"/>
<path d="M214.87,1199.20 L219.97,1194.20 L225.07,1199.20 M219.97,1194.20 L219.97,1205.60" fill="none" stroke="#000" stroke-width="2.1"/>
<path d="M250.29,1200.00 L255.39,1205.00 L260.49,1200.00 M255.39,1205.00 L255.39,1193.60" fill="none" stroke="#000" stroke-width="2.1"/>
<path d="M285.71,1199.20 L290.81,1194.20 L295.91,1199.20 M290.81,1194.20 L290.81,1205.60" fill="none" stroke="#000" stroke-width="2.1"/>
<line x1="320.93" y1="1198.20" x2="331.53" y2="1198.20" stroke="#000" stroke-width="2"/>
<path d="M356.55,1200.00 L361.65,1205.00 L366.75,1200.00 M361.65,1205.00 L361.65,1193.60" fill="none" stroke="#000" stroke-width="2.1"/>
<path d="M108.61,1229.80 L113.71,1224.80 L118.81,1229.80 M113.71,1224.80 L113.71,1236.20" fill="none" stroke="#000" stroke-width="2.1"/>
<path d="M144.03,1229.80 L149.13,1224.80 L154.23,1229.80 M149.13,1224.80 L149.13,1236.20" fill="none" stroke="#000" stroke-width="2.1"/>
<path d="M179.45,1229.80 L184.55,1224.80 L189.65,1229.80 M184.55,1224.80 L184.55,1236.20" fill="none" stroke="#000" stroke-width="2.1"/>
<line x1="214.67" y1="1228.80" x2="225.27" y2="1228.80" stroke="#000" stroke-width="2"/>
<line x1="250.09" y1="1228.80" x2="260.69" y2="1228.80" stroke="#000" stroke-width="2"/>
<path d="M285.71,1230.60 L290.81,1235.60 L295.91,1230.60 M290.81,1235.60 L290.81,1224.20" fill="none" stroke="#000" stroke-width="2.1"/>
<path d="M321.13,1230.60 L326.23,1235.60 L331.33,1230.60 M326.23,1235.60 L326.23,1224.20" fill="none" stroke="#000" stroke-width="2.1"/>
<path d="M356.55,1230.60 L361.65,1235.60 L366.75,1230.60 M361.65,1235.60 L361.65,1224.20" fill="none" stroke="#000" stroke-width="2.1"/>
<text x="388.00" y="1205.80" font-size="15.1" font-weight="bold" text-anchor="start" fill="#000">P to B</text>
<text x="386.30" y="1234.50" font-size="15.1" font-weight="bold" text-anchor="start" fill="#000">B to O</text>
<rect x="390.90" y="1057.90" width="14.60" height="14.00" fill="#111111" stroke="#000" stroke-width="1.5"/>
<text x="412.70" y="1070.20" font-size="15.4" text-anchor="start" fill="#000">Core Erythroid</text>
<rect x="390.90" y="1091.10" width="14.60" height="14.00" fill="#e4e4e4" stroke="#000" stroke-width="1.5"/>
<text x="412.70" y="1094.10" font-size="15.35" text-anchor="start" fill="#000">Non-Tissue</text>
<text x="413.10" y="1110.60" font-size="15.35" text-anchor="start" fill="#000">Restricted</text>
<rect x="390.90" y="1124.30" width="14.60" height="14.00" fill="#8a8a8a" stroke="#000" stroke-width="1.5"/>
<text x="412.70" y="1133.60" font-size="15.4" text-anchor="start" fill="#000">Housekeeping</text>
</svg>
</body></html>
